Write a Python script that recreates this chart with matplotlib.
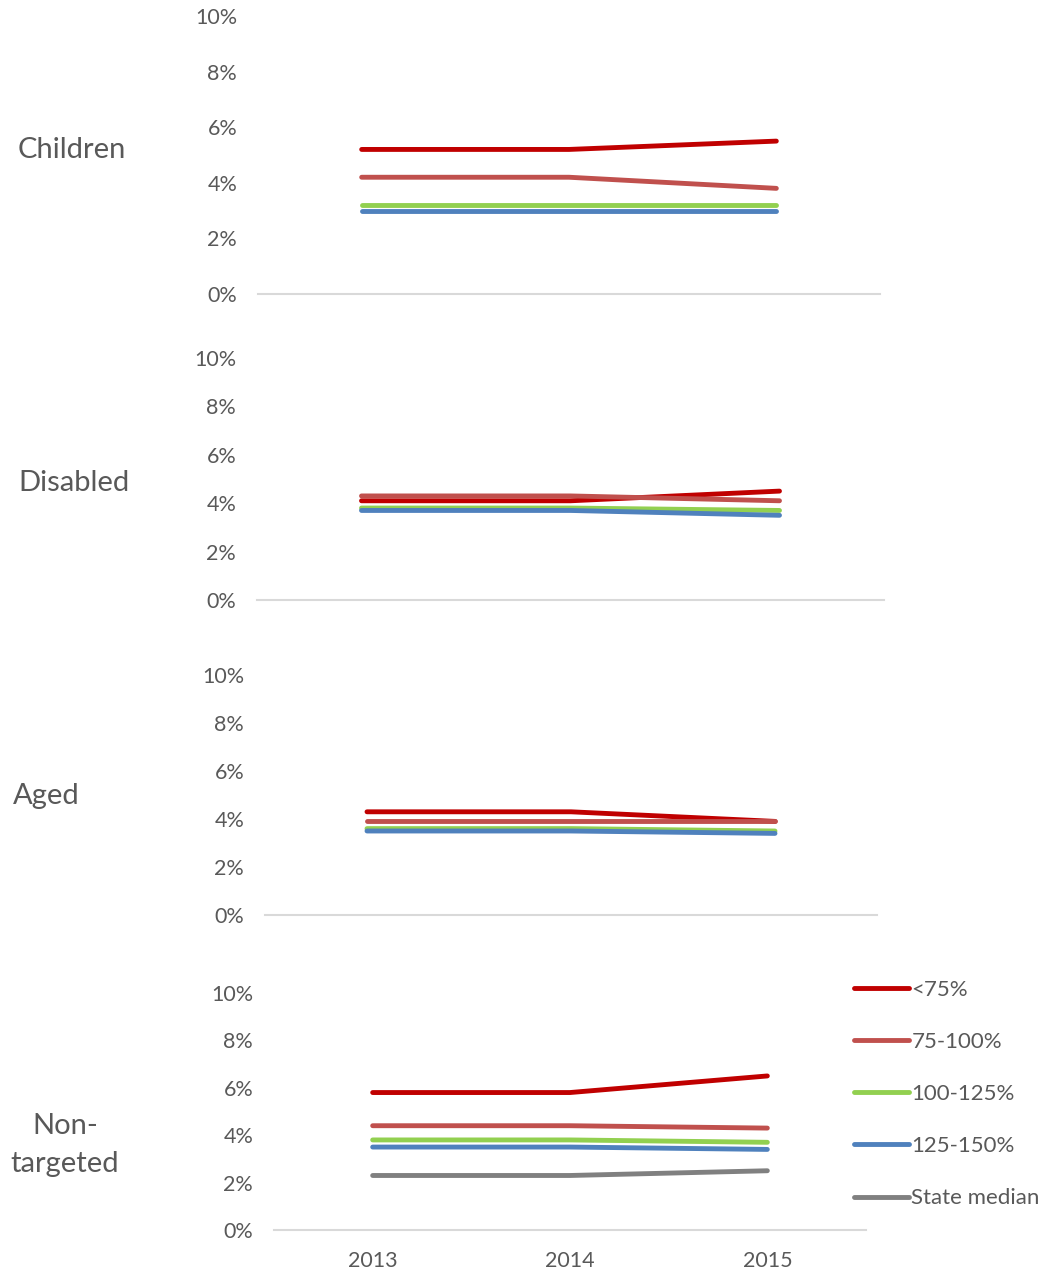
import matplotlib.pyplot as plt
import numpy as np

plt.rcParams['font.family'] = ['Lato', 'DejaVu Sans']

years = ['2013', '2014', '2015']
groups = ['Children', 'Disabled', 'Aged', 'Non-\ntargeted']
series_names = ['<75%', '75-100%', '100-125%', '125-150%', 'State median']
colors = ['#C00000', '#C0504D', '#92D050', '#4F81BD', '#808080']

# values in percent, one list per series
children = [[5.2, 5.2, 5.5], [4.2, 4.2, 3.8], [3.2, 3.2, 3.2], [3.0, 3.0, 3.0]]
disabled = [[4.1, 4.1, 4.5], [4.3, 4.3, 4.1], [3.8, 3.8, 3.7], [3.7, 3.7, 3.5]]
aged = [[4.3, 4.3, 3.9], [3.9, 3.9, 3.9], [3.6, 3.6, 3.5], [3.5, 3.5, 3.4]]
non_targeted = [[5.8, 5.8, 6.5], [4.4, 4.4, 4.3], [3.8, 3.8, 3.7], [3.5, 3.5, 3.4], [2.3, 2.3, 2.5]]
panels = [children, disabled, aged, non_targeted]

W, H = 1047, 1274
fig = plt.figure(figsize=(W / 100, H / 100), dpi=100)

# axes boxes in pixels: left, top, right, bottom
boxes = [(258, 16, 880, 294), (257, 358, 884, 600), (265, 675, 877, 915), (274, 993, 866, 1230)]
# group label positions in pixels
label_pos = [(18, 150, 'left'), (18, 483, 'left'), (13, 796, 'left'), (65, 1145, 'center')]

txt = '#595959'
x = np.arange(len(years))
axes = []
for i, (vals, box) in enumerate(zip(panels, boxes)):
    l, t, r, b = box
    ax = fig.add_axes([l / W, 1 - b / H, (r - l) / W, (b - t) / H])
    for j, v in enumerate(vals):
        ax.plot(x, v, color=colors[j], lw=3.5, solid_capstyle='round',
                label=series_names[j])
    ax.set_xlim(-0.5, 2.5)
    ax.set_ylim(0, 10)
    ax.set_yticks(range(0, 11, 2))
    ax.set_yticklabels([f'{k}%' for k in range(0, 11, 2)])
    for s in ['top', 'right', 'left']:
        ax.spines[s].set_visible(False)
    ax.spines['bottom'].set_color('#D9D9D9')
    ax.spines['bottom'].set_linewidth(1.5)
    ax.tick_params(axis='y', length=0, pad=15, labelsize=15.5, labelcolor=txt)
    if i == 3:
        ax.set_xticks(x)
        ax.set_xticklabels(years)
        ax.tick_params(axis='x', length=0, pad=15, labelsize=15.5, labelcolor=txt)
    else:
        ax.set_xticks([])
    lx, ly, ha = label_pos[i]
    fig.text(lx / W, 1 - ly / H, groups[i], ha=ha, va='center',
             fontsize=21, color=txt, linespacing=1.6)
    axes.append(ax)

leg = fig.legend(*axes[3].get_legend_handles_labels(), loc='upper left',
                 bbox_to_anchor=(838 / W, 1 - 964 / H), frameon=False,
                 fontsize=16, handlelength=2.5, handletextpad=0.1,
                 labelspacing=1.45, labelcolor=txt, borderpad=0.2)

fig.savefig('out.png', dpi=100)
